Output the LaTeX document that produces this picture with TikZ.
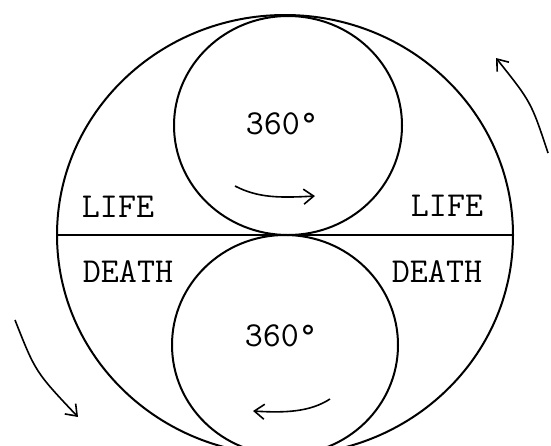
\documentclass[tikz,border=0pt]{standalone}
\usetikzlibrary{arrows.meta}
\begin{document}
\begin{tikzpicture}[x=1pt,y=-1pt,
  shape line/.style={line width=2pt},
  turnarrow/.style={line width=1.6pt,-{Straight Barb[length=10pt,width=15pt,line width=1.6pt]}},
  lbl/.style={font=\fontsize{35}{40}\selectfont\ttfamily, inner sep=0pt}]
\useasboundingbox (0,0) rectangle (551,445);
\clip (0,0) rectangle (551,445);
% outer ellipse and the two inner circles
\draw[shape line] (285,235) ellipse [x radius=228, y radius=220];
\draw[shape line] (288,125.5) ellipse [x radius=114, y radius=109.5];
\draw[shape line] (285,345) ellipse [x radius=113, y radius=110];
% horizon line
\coordinate (hl) at (57,235);
\coordinate (hr) at (513,235);
\draw[shape line] (hl) -- (hr);
% labels
\node[lbl] (t360) at (282,124) {360\textdegree};
\node[lbl] (b360) at (281,336) {360\textdegree};
\node[lbl] (lifeL) at (118,207) {LIFE};
\node[lbl] (lifeR) at (447,206) {LIFE};
\node[lbl] (deathL) at (128,272) {DEATH};
\node[lbl] (deathR) at (437,272) {DEATH};
% rotation arrows
\coordinate (ta1) at (235,186);
\coordinate (ta2) at (315,196);
\draw[turnarrow] (ta1) .. controls (258,198) and (280,198) .. (ta2);
\coordinate (ba1) at (330,399);
\coordinate (ba2) at (253,411);
\draw[turnarrow] (ba1) .. controls (310,412) and (285,413) .. (ba2);
\coordinate (ra1) at (548,153);
\coordinate (ra2) at (496,58);
\draw[turnarrow] (ra1) .. controls (531.2,102.1) .. (ra2);
\coordinate (la1) at (15,320);
\coordinate (la2) at (78,417);
\draw[turnarrow] (la1) .. controls (35.5,372) .. (la2);
\end{tikzpicture}
\end{document}
